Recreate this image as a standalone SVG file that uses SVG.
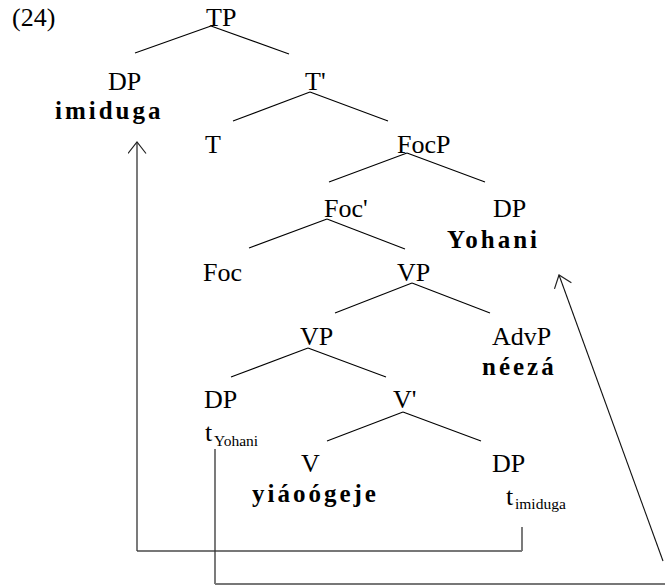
<svg xmlns="http://www.w3.org/2000/svg" width="665" height="586" viewBox="0 0 665 586">
<defs>
<style>
text{font-family:"Liberation Serif","Times New Roman",serif;fill:#000}
.lab{font-size:26px}
.b{font-size:25px;font-weight:bold;letter-spacing:3px}
.sub{font-size:15.5px}
.tree line{stroke:#000;stroke-width:1.1}
.v{stroke:#333;stroke-width:1.3;fill:none}
.h{stroke:#777;stroke-width:2;fill:none}
.d{stroke:#111;stroke-width:1.1;fill:none}
</style>
<marker id="ah" markerUnits="userSpaceOnUse" viewBox="0 0 14 20" markerWidth="14" markerHeight="20" refX="12.5" refY="9.5" orient="auto">
<path d="M1,0.5 L12.5,9.5 L1,18.5" fill="none" stroke="#222" stroke-width="1.2"/>
</marker>
</defs>
<rect width="665" height="586" fill="#fff"/>
<text class="lab" x="12" y="26">(24)</text>
<g id="TP"><text class="lab" x="206" y="26">TP</text></g>
<g id="DP-imiduga"><text class="lab" x="108" y="90">DP</text><text class="b" x="55" y="119">imiduga</text></g>
<g id="Tbar"><text class="lab" x="305" y="90">T'</text></g>
<g id="T"><text class="lab" x="205" y="153">T</text></g>
<g id="FocP"><text class="lab" x="397" y="153">FocP</text></g>
<g id="Focbar"><text class="lab" x="324" y="217">Foc'</text></g>
<g id="DP-Yohani"><text class="lab" x="493" y="217">DP</text><text class="b" x="447" y="248">Yohani</text></g>
<g id="Foc"><text class="lab" x="203" y="281">Foc</text></g>
<g id="VP1"><text class="lab" x="397" y="281">VP</text></g>
<g id="VP2"><text class="lab" x="300" y="345">VP</text></g>
<g id="AdvP"><text class="lab" x="492" y="345">AdvP</text><text class="b" x="482" y="375">néezá</text></g>
<g id="DP-tYohani"><text class="lab" x="204" y="408">DP</text><text class="lab" x="205" y="441">t</text><text class="sub" x="214" y="446">Yohani</text></g>
<g id="Vbar"><text class="lab" x="393" y="408">V'</text></g>
<g id="V"><text class="lab" x="301" y="472">V</text><text class="b" x="252" y="502">yiáoógeje</text></g>
<g id="DP-timiduga"><text class="lab" x="492" y="472">DP</text><text class="lab" x="506" y="505">t</text><text class="sub" x="515" y="509">imiduga</text></g>
<g id="connectors">
<g class="tree">
<line x1="211" y1="26" x2="135" y2="53"/><line x1="211" y1="26" x2="289" y2="54"/>
<line x1="310" y1="92" x2="233" y2="121"/><line x1="310" y1="92" x2="388" y2="121"/>
<line x1="407" y1="153" x2="329" y2="182"/><line x1="407" y1="153" x2="485" y2="182"/>
<line x1="327" y1="219" x2="249" y2="248"/><line x1="327" y1="219" x2="405" y2="249"/>
<line x1="412" y1="283" x2="335" y2="313"/><line x1="412" y1="283" x2="490" y2="313"/>
<line x1="308" y1="348" x2="231" y2="377"/><line x1="308" y1="348" x2="386" y2="377"/>
<line x1="403" y1="412" x2="327" y2="441"/><line x1="403" y1="412" x2="481" y2="441"/>
</g>
<g id="move-imiduga">
<line class="v" x1="522" y1="527" x2="522" y2="551"/>
<line class="h" x1="522" y1="551" x2="137" y2="551"/>
<line class="v" x1="137" y1="551" x2="137" y2="142" marker-end="url(#ah)"/>
</g>
<g id="move-Yohani">
<line class="v" x1="215" y1="449" x2="215" y2="584"/>
<line class="h" x1="215" y1="584" x2="665" y2="584"/>
<line class="d" x1="663" y1="561" x2="559" y2="275" marker-end="url(#ah)"/>
</g>
</g>
</svg>
